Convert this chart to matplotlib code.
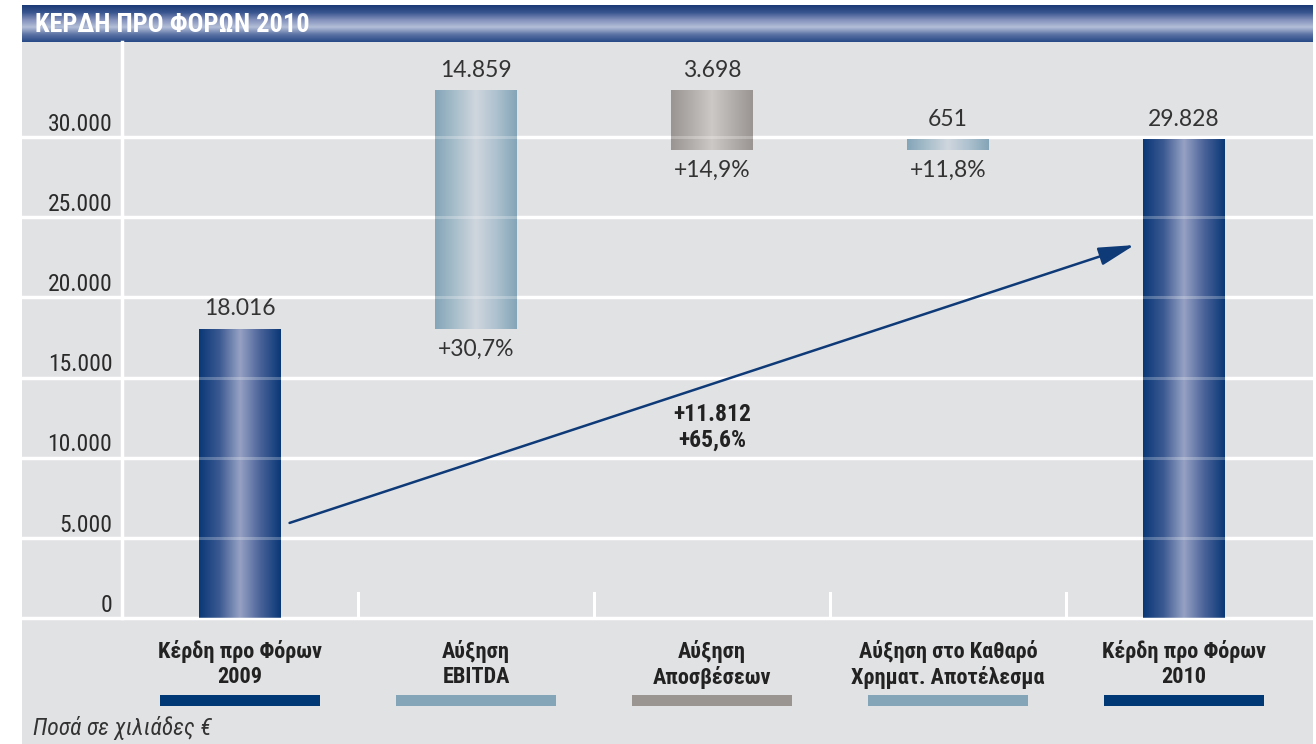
import numpy as np
import matplotlib
matplotlib.use("Agg")
import matplotlib.pyplot as plt
from matplotlib.colors import LinearSegmentedColormap
from matplotlib.patches import Rectangle, ArrowStyle
from matplotlib.transforms import blended_transform_factory

# ---------------- data ----------------
title = "ΚΕΡΔΗ ΠΡΟ ΦΟΡΩΝ 2010"
categories = ["Κέρδη προ Φόρων\n2009", "Αύξηση\nEBITDA", "Αύξηση\nΑποσβέσεων",
              "Αύξηση στο Καθαρό\nΧρηματ. Αποτέλεσμα", "Κέρδη προ Φόρων\n2010"]
amounts = [18016, 14859, 3698, 651, 29828]
kinds = ["total", "up", "down", "up", "total"]
pct_labels = [None, "+30,7%", "+14,9%", "+11,8%", None]
yticks = [0, 5000, 10000, 15000, 20000, 25000, 30000]
ytick_labels = ["0", "5.000", "10.000", "15.000", "20.000", "25.000", "30.000"]
change_text = "+11.812\n+65,6%"
arrow_start = (0.21, 5930)
arrow_end = (3.79, 23260)
footnote = "Ποσά σε χιλιάδες €"

# ---------------- style ----------------
W, H = 1316, 744
BG = "#e1e2e4"
NARROW = ["Roboto Condensed", "DejaVu Sans"]
NUMF = ["Lato", "Open Sans", "DejaVu Sans"]
grad = {
    "total": ["#0a3877", "#3c5a92", "#97a2c4", "#4a6399", "#0a3877"],
    "up": ["#84a5b8", "#a9bfcc", "#d0d6de", "#aec2cf", "#84a5b8"],
    "down": ["#9a9592", "#b2aeab", "#cdc9c6", "#b3afac", "#9a9592"],
}
swatch = {"total": "#003876", "up": "#84a5b8", "down": "#9a9591"}
centers_px = 236.0

fig = plt.figure(figsize=(W / 100, H / 100), dpi=100)
fig.patch.set_facecolor("white")
fig.patches.append(Rectangle((22 / W, 0), (1313 - 22) / W, (H - 42) / H,
                             transform=fig.transFigure, facecolor=BG,
                             edgecolor="none", zorder=-10))

# header bar with gradient
hax = fig.add_axes([22 / W, (H - 42) / H, (1313 - 22) / W, 37 / H])
hax.set_axis_off()
hcmap = LinearSegmentedColormap.from_list(
    "h", ["#1c3a75", "#3a5690", "#8391bb", "#b4bed8", "#5b73a5", "#284a86"])
hax.imshow(np.linspace(0, 1, 64).reshape(-1, 1), cmap=hcmap, aspect="auto",
           extent=(0, 1, 0, 1), origin="upper")
hax.set_xlim(0, 1)
hax.set_ylim(0, 1)
hax.text(13 / (1313 - 22), 0.47, title, color="white", fontsize=19,
         fontweight="bold", family=NARROW, ha="left", va="center")

# main axes
ax = fig.add_axes([122 / W, (H - 618) / H, (1310 - 122) / W, (618 - 42) / H])
ax.set_facecolor("none")
ymax = 576 / (481 / 30000)
x0 = -(240 - 122) / centers_px
x1 = (1310 - 240) / centers_px
bw = 82 / centers_px

for s in ["top", "right", "bottom"]:
    ax.spines[s].set_visible(False)
ax.spines["left"].set_color("white")
ax.spines["left"].set_linewidth(2.5)
ax.set_xticks([])
ax.set_yticks([])

# gridlines spanning the whole grey area
gtr = blended_transform_factory(fig.transFigure, ax.transData)
for v in yticks:
    ax.plot([22 / W, 1313 / W], [v, v], color="white", lw=2.5,
            transform=gtr, clip_on=False, zorder=1)
    ax.plot([22 / W, 1313 / W], [v, v], color="white", lw=2.2, alpha=0.25,
            transform=gtr, clip_on=False, zorder=4)

for v, lab in zip(yticks, ytick_labels):
    ax.annotate(lab, xy=(0, v), xycoords=("axes fraction", "data"),
                xytext=(-7, 4.5), textcoords="offset points", ha="right",
                va="baseline", fontsize=17, family=NARROW, color="#2a2a2a")

# separators between categories near the baseline
for i in range(len(categories) - 1):
    ax.plot([i + 0.5, i + 0.5], [0, 1560], color="white", lw=2.2, zorder=1)

btr = blended_transform_factory(ax.transData, ax.transAxes)

# waterfall bars
running = 0
for i, (amt, kind) in enumerate(zip(amounts, kinds)):
    if kind == "total":
        bot, top = 0, amt
        running = amt
    elif kind == "up":
        bot, top = running, running + amt
        running = top
    else:
        bot, top = running - amt, running
        running = bot
    cmap = LinearSegmentedColormap.from_list("b%d" % i, grad[kind])
    ax.imshow(np.linspace(0, 1, 128).reshape(1, -1), cmap=cmap, aspect="auto",
              extent=(i - bw / 2, i + bw / 2, bot, top), zorder=2,
              interpolation="bilinear")
    ax.annotate(f"{amt:,}".replace(",", "."), xy=(i, top), xytext=(0, 7),
                textcoords="offset points", ha="center", va="bottom",
                fontsize=16.5, family=NUMF, color="#333333")
    if pct_labels[i]:
        ax.annotate(pct_labels[i], xy=(i, bot), xytext=(0, -7),
                    textcoords="offset points", ha="center", va="top",
                    fontsize=16.5, family=NUMF, color="#333333")

    # category label and colour swatch below the axis
    ax.annotate(categories[i], xy=(i, 0), xycoords=("data", "axes fraction"),
                xytext=(0, -16), textcoords="offset points", ha="center",
                va="top", fontsize=16, fontweight="bold", family=NARROW,
                color="#222222", linespacing=1.15)
    ax.add_patch(Rectangle((i - 0.339, -(706 - 618) / 576), 0.678, 11 / 576,
                           transform=btr, facecolor=swatch[kind],
                           edgecolor="none", clip_on=False, zorder=3))

# arrow with total change
ax.annotate("", xy=arrow_end, xytext=arrow_start,
            arrowprops=dict(arrowstyle=ArrowStyle("-|>", head_length=1.1,
                                                  head_width=0.28),
                            mutation_scale=20, color="#0e3a78", lw=1.8,
                            shrinkA=0, shrinkB=0), zorder=5)
ax.text(2, 11880, change_text, ha="center", va="center", fontsize=17,
        fontweight="bold", family=NARROW, color="#222222", linespacing=1.15)

ax.set_xlim(x0, x1)
ax.set_ylim(0, ymax)

fig.text(33 / W, (H - 728) / H, footnote, ha="left", va="center",
         fontsize=17, style="italic", family=NARROW, color="#333333")

fig.savefig("out.png", dpi=100)
